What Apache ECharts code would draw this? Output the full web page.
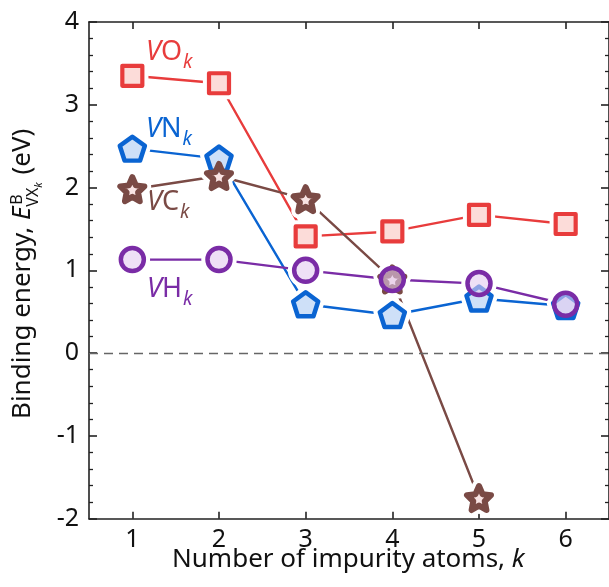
<!DOCTYPE html>
<html>
<head>
<meta charset="utf-8">
<script src="https://cdn.jsdelivr.net/npm/echarts@6/dist/echarts.min.js"></script>
<style>
  html, body { margin: 0; padding: 0; background: #fff; }
  #chart { width: 609px; height: 587px; }
</style>
</head>
<body>
<div id="chart"></div>
<script>
// Number of impurity atoms k (category axis)
const kLabels = ['1', '2', '3', '4', '5', '6'];
// Binding energies (eV) for each vacancy–impurity complex
const voEnergy = [3.35, 3.26, 1.41, 1.47, 1.67, 1.56];
const vnEnergy = [2.47, 2.35, 0.59, 0.46, 0.66, 0.57];
const vcEnergy = [1.98, 2.14, 1.86, 0.89, -1.75];
const vhEnergy = [1.13, 1.13, 1.00, 0.89, 0.84, 0.59];
// Energy axis range and step
const yMin = -2, yMax = 4, yStep = 1;

const FONT = '"Noto Sans", "Open Sans", sans-serif';
const PENTAGON = 'path://M0,-1L0.951,-0.309L0.588,0.809L-0.588,0.809L-0.951,-0.309Z';
const STAR = 'path://M0,-1L0.28,-0.385L0.951,-0.309L0.453,0.147L0.588,0.809L0,0.476L-0.588,0.809L-0.453,0.147L-0.951,-0.309L-0.28,-0.385Z';

// One line + white gap halo + marker for each complex
function family(data, color, fill, symbol, size, border, markerZ) {
  return [
    {
      type: 'line', data: data, symbol: 'none', z: 2, silent: true,
      lineStyle: { color: color, width: 2.4 }
    },
    {
      type: 'scatter', data: data, symbol: symbol, symbolSize: size, z: 3, silent: true,
      itemStyle: { color: '#fff', borderColor: '#fff', borderWidth: border + 8, borderJoin: 'round', opacity: 1 }
    },
    {
      type: 'scatter', data: data, symbol: symbol, symbolSize: size, z: markerZ, silent: true,
      itemStyle: { color: fill, borderColor: color, borderWidth: border, borderJoin: 'round', opacity: 1 }
    }
  ];
}

const series = [].concat(
  family(vnEnergy, '#0a64d2', 'rgba(190,214,245,0.75)', PENTAGON, [25, 24], 4.5, 4),
  family(voEnergy, '#e83c3c', 'rgba(252,214,210,0.85)', 'rect', 20, 4.2, 5),
  family(vcEnergy, '#7a4a45', 'rgba(245,215,215,0.7)', STAR, 24, 6, 6),
  family(vhEnergy, '#7a2ca6', 'rgba(226,204,240,0.6)', 'circle', 23, 4.5, 7)
);

// Zero reference line
series.push({
  type: 'line', data: [], z: 1, silent: true,
  markLine: {
    silent: true, symbol: ['none', 'none'], animation: false,
    label: { show: false },
    lineStyle: { color: '#666', type: [9, 6], width: 1.3 },
    data: [{ yAxis: 0 }]
  }
});

// Text measurement for composed labels
const measureCtx = document.createElement('canvas').getContext('2d');
function textWidth(str, size, italic) {
  measureCtx.font = (italic ? 'italic ' : '') + size + 'px ' + FONT;
  return measureCtx.measureText(str).width;
}

const mid = fs => 0.388 * fs; // baseline-to-middle offset

function piece(text, x, baseline, fs, italic, color) {
  return {
    type: 'text', x: x, y: baseline - mid(fs),
    style: {
      text: text, fill: color || '#111', fontSize: fs, fontFamily: FONT,
      fontStyle: italic ? 'italic' : 'normal', align: 'left', verticalAlign: 'middle'
    }
  };
}

// Series name such as VO_k: italic V, upright element symbol, italic subscript k
function seriesLabel(rest, color, x, baseline) {
  const F = 27, FS = 19;
  const wV = textWidth('V', F, true);
  const wR = textWidth(rest, F, false);
  return {
    type: 'group',
    children: [
      piece('V', x, baseline, F, true, color),
      piece(rest, x + wV, baseline, F, false, color),
      piece('k', x + wV + wR + 1, baseline + 7, FS, true, color)
    ]
  };
}

// Y axis title: Binding energy, E^B_{VX_k} (eV)
const T = 26, S = 16, SS = 11;
const wMain = textWidth('Binding energy, ', T, false);
const wE = textWidth('E', T, true);
const xS = wMain + wE + 1;
const wB = textWidth('B', S, false);
const wVX = textWidth('VX', S, false);
const wk = textWidth('k', SS, true);
const xEnd = Math.max(xS + 1 + wB, xS - 1 + wVX + wk) + 1;

const axisLineStyle = { color: '#222', width: 1.6 };

const option = {
  animation: false,
  backgroundColor: '#fff',
  grid: { left: 89, right: -2, top: 22, bottom: 68.3, containLabel: false },
  xAxis: [
    {
      type: 'category', data: kLabels, boundaryGap: true, position: 'bottom',
      axisLine: { show: true, onZero: false, lineStyle: axisLineStyle },
      axisTick: { show: true, inside: true, alignWithLabel: true, length: 7, lineStyle: axisLineStyle },
      axisLabel: { show: true, color: '#111', fontSize: 25, fontFamily: FONT, margin: 9 },
      splitLine: { show: false }
    },
    {
      type: 'category', data: kLabels, boundaryGap: true, position: 'top',
      axisLine: { show: true, onZero: false, lineStyle: axisLineStyle },
      axisTick: { show: true, inside: true, alignWithLabel: true, length: 7, lineStyle: axisLineStyle },
      axisLabel: { show: false },
      splitLine: { show: false }
    }
  ],
  yAxis: [
    {
      type: 'value', min: yMin, max: yMax, interval: yStep, position: 'left',
      axisLine: { show: true, onZero: false, lineStyle: axisLineStyle },
      axisTick: { show: true, inside: true, length: 8, lineStyle: axisLineStyle },
      minorTick: { show: true, splitNumber: 5, length: 4, lineStyle: { color: '#222', width: 1.3 } },
      axisLabel: { show: true, color: '#111', fontSize: 25, fontFamily: FONT, margin: 10 },
      splitLine: { show: false }, minorSplitLine: { show: false }
    },
    {
      type: 'value', min: yMin, max: yMax, interval: yStep, position: 'right',
      axisLine: { show: true, onZero: false, lineStyle: axisLineStyle },
      axisTick: { show: true, inside: true, length: 8, lineStyle: axisLineStyle },
      minorTick: { show: true, splitNumber: 5, length: 4, lineStyle: { color: '#222', width: 1.3 } },
      axisLabel: { show: false },
      splitLine: { show: false }, minorSplitLine: { show: false }
    }
  ],
  series: series,
  graphic: [
    seriesLabel('O', '#e83c3c', 146, 63),
    seriesLabel('N', '#0a64d2', 146, 140),
    seriesLabel('C', '#7a4a45', 147, 213),
    seriesLabel('H', '#7a2ca6', 147, 300),
    {
      type: 'group',
      children: [
        piece('Number of impurity atoms, ', 172, 570, 26, false),
        piece('k', 172 + textWidth('Number of impurity atoms, ', 26, false), 570, 26, true)
      ]
    },
    {
      type: 'group', x: 33, y: 419, rotation: Math.PI / 2,
      children: [
        piece('Binding energy, ', 0, 0, T, false),
        piece('E', wMain, 0, T, true),
        piece('B', xS + 1, -9, S, false),
        piece('VX', xS - 1, 7, S, false),
        piece('k', xS - 1 + wVX, 10, SS, true),
        piece(' (eV)', xEnd, 0, T, false)
      ]
    }
  ]
};

const chart = echarts.init(document.getElementById('chart'), null, { renderer: 'canvas' });
chart.setOption(option);
</script>
</body>
</html>
